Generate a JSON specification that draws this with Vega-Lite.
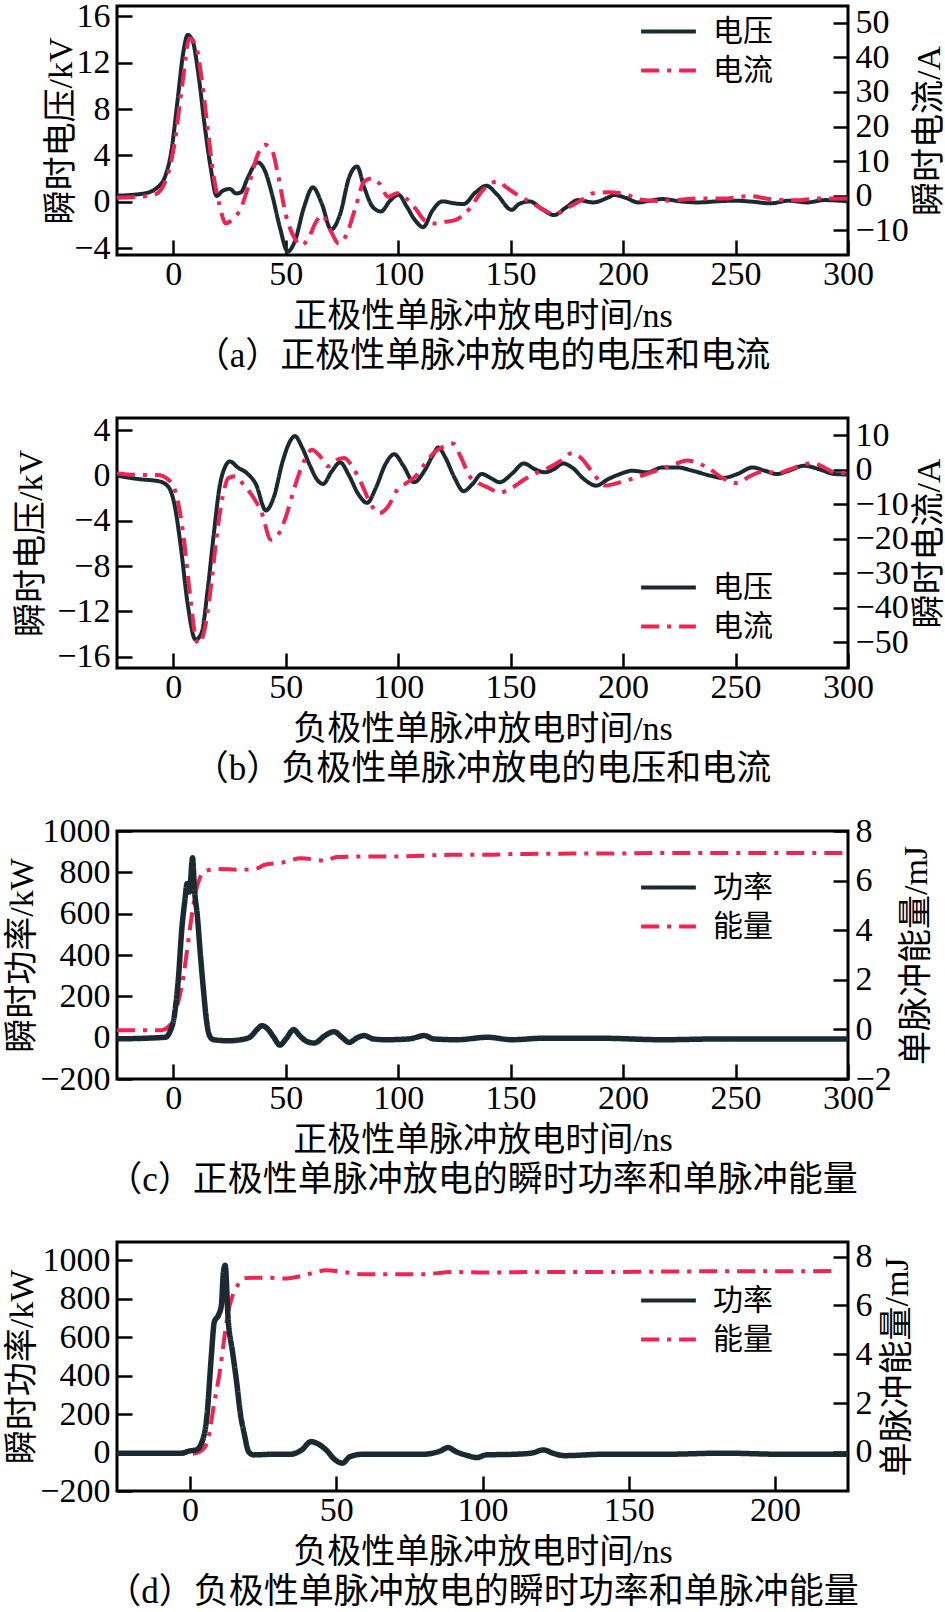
{
"$schema": "https://vega.github.io/schema/vega-lite/v6.json",
"background": "white",
"padding": {"left": 4, "top": -3, "right": 0, "bottom": 0},
"spacing": 163,
"bounds": "flush",
"config": {
  "font": "Liberation Serif, Noto Sans CJK SC",
  "view": {"stroke": "black", "strokeWidth": 3},
  "axis": {"grid": false, "domain": false, "tickSize": -15, "tickWidth": 2.5, "tickColor": "black", "labelFont": "Liberation Serif", "labelFontSize": 34, "labelColor": "black", "titleFont": "Liberation Serif, Noto Sans CJK SC", "titleFontSize": 34, "titleFontWeight": "normal", "titleColor": "black", "titlePadding": 4, "labelFlush": false, "labelOverlap": false},
  "axisX": {"labelPadding": 17, "titlePadding": 8},
  "axisY": {"labelPadding": 22},
  "axisRight": {"titleAngle": -90, "titleBaseline": "top", "titlePadding": 4},
  "title": {"font": "Liberation Serif, Noto Sans CJK SC", "fontSize": 35, "fontWeight": "normal", "color": "black"},
  "legend": {"title": null, "symbolType": "stroke", "symbolSize": 3000, "symbolStrokeWidth": 4, "labelFont": "Noto Sans CJK SC", "labelFontSize": 30, "labelColor": "black", "labelOffset": 15, "padding": 0, "rowPadding": 0, "clipHeight": 39, "orient": "none"}
},
"resolve": {"scale": {"color": "independent", "strokeDash": "independent", "x": "independent", "y": "independent"}, "legend": {"color": "independent", "strokeDash": "independent"}},
"datasets": {
"a": [
{"s":"电压","t":-25,"y":0.52},{"s":"电压","t":-12.9,"y":0.72},{"s":"电压","t":-7,"y":1.24},{"s":"电压","t":-3.5,"y":2.25},{"s":"电压","t":-0.8,"y":4.4},{"s":"电压","t":1.9,"y":8.7},{"s":"电压","t":4.6,"y":13.05},{"s":"电压","t":6.4,"y":14.4},{"s":"电压","t":8.6,"y":13.9},{"s":"电压","t":11.2,"y":11.0},{"s":"电压","t":13.9,"y":6.7},{"s":"电压","t":16.6,"y":3.0},{"s":"电压","t":19.3,"y":0.5},{"s":"电压","t":22,"y":0.95},{"s":"电压","t":25.2,"y":1.1},{"s":"电压","t":27.9,"y":0.72},{"s":"电压","t":30,"y":0.8},{"s":"电压","t":33.2,"y":2.1},{"s":"电压","t":37.5,"y":3.4},{"s":"电压","t":40.7,"y":2.7},{"s":"电压","t":43.9,"y":0.66},{"s":"电压","t":47.4,"y":-2.2},{"s":"电压","t":50.9,"y":-4.3},{"s":"电压","t":54.1,"y":-3.4},{"s":"电压","t":58.1,"y":-0.5},{"s":"电压","t":62.1,"y":1.24},{"s":"电压","t":66.1,"y":-0.2},{"s":"电压","t":70.2,"y":-2.4},{"s":"电压","t":74.2,"y":-1.07},{"s":"电压","t":78.2,"y":2.1},{"s":"电压","t":81.7,"y":3.05},{"s":"电压","t":84.9,"y":1.24},{"s":"电压","t":88.9,"y":-0.5},{"s":"电压","t":92.4,"y":-0.84},{"s":"电压","t":96.4,"y":0.09},{"s":"电压","t":100.2,"y":0.6},{"s":"电压","t":103.6,"y":-0.35},{"s":"电压","t":107.7,"y":-1.64},{"s":"电压","t":111.1,"y":-2.2},{"s":"电压","t":115.2,"y":-0.78},{"s":"电压","t":119.7,"y":0.03},{"s":"电压","t":125,"y":-0.14},{"s":"电压","t":129.1,"y":-0.2},{"s":"电压","t":134.4,"y":0.8},{"s":"电压","t":139.3,"y":1.38},{"s":"电压","t":143.8,"y":0.66},{"s":"电压","t":150.5,"y":-0.7},{"s":"电压","t":153.7,"y":-0.2},{"s":"电压","t":158.5,"y":0.03},{"s":"电压","t":163.9,"y":-0.63},{"s":"电压","t":169.3,"y":-1.15},{"s":"电压","t":174.6,"y":-0.5},{"s":"电压","t":180,"y":0.14},{"s":"电压","t":186.7,"y":-0.06},{"s":"电压","t":193.4,"y":0.37},{"s":"电压","t":196.1,"y":0.58},{"s":"电压","t":201.4,"y":0.32},{"s":"电压","t":206.7,"y":-0.06},{"s":"电压","t":212.1,"y":0.09},{"s":"电压","t":217.5,"y":0.23},{"s":"电压","t":225.5,"y":0.03},{"s":"电压","t":233.5,"y":-0.06},{"s":"电压","t":241.5,"y":0.03},{"s":"电压","t":249.6,"y":0.09},{"s":"电压","t":257.6,"y":0},{"s":"电压","t":265.6,"y":-0.14},{"s":"电压","t":273.7,"y":0.09},{"s":"电压","t":281.7,"y":-0.06},{"s":"电压","t":289.7,"y":0.14},{"s":"电压","t":300,"y":0.03},
{"s":"电流","t":-25,"y":-0.6},{"s":"电流","t":-15.5,"y":-0.3},{"s":"电流","t":-8,"y":0.4},{"s":"电流","t":-3.5,"y":4.1},{"s":"电流","t":0.5,"y":14.7},{"s":"电流","t":4,"y":32},{"s":"电流","t":7.2,"y":45.4},{"s":"电流","t":9.9,"y":43.7},{"s":"电流","t":12.6,"y":34},{"s":"电流","t":15.3,"y":19.5},{"s":"电流","t":17.9,"y":6},{"s":"电流","t":20.6,"y":-2.7},{"s":"电流","t":23.3,"y":-8},{"s":"电流","t":25.9,"y":-7.1},{"s":"电流","t":30,"y":-3.7},{"s":"电流","t":34,"y":4.1},{"s":"电流","t":37.5,"y":11.8},{"s":"电流","t":40.7,"y":14.7},{"s":"电流","t":43.9,"y":13.2},{"s":"电流","t":46.6,"y":6},{"s":"电流","t":50.1,"y":-5.6},{"s":"电流","t":54.1,"y":-12.4},{"s":"电流","t":56.8,"y":-14.3},{"s":"电流","t":60,"y":-12.4},{"s":"电流","t":63.5,"y":-7.5},{"s":"电流","t":66.1,"y":-5.6},{"s":"电流","t":70.2,"y":-10.4},{"s":"电流","t":73.6,"y":-13.8},{"s":"电流","t":76.9,"y":-11.4},{"s":"电流","t":80.9,"y":-3.7},{"s":"电流","t":84.9,"y":4.1},{"s":"电流","t":88.4,"y":5.0},{"s":"电流","t":91.6,"y":3.6},{"s":"电流","t":95.6,"y":-0.3},{"s":"电流","t":99.6,"y":0.7},{"s":"电流","t":103.6,"y":-0.8},{"s":"电流","t":107.7,"y":-3.7},{"s":"电流","t":111.7,"y":-7.1},{"s":"电流","t":115.7,"y":-8},{"s":"电流","t":121,"y":-7.5},{"s":"电流","t":125,"y":-7.1},{"s":"电流","t":131.8,"y":-3.7},{"s":"电流","t":137.1,"y":1.2},{"s":"电流","t":141.1,"y":3.6},{"s":"电流","t":144.6,"y":4.1},{"s":"电流","t":147.8,"y":2.6},{"s":"电流","t":153.2,"y":0.2},{"s":"电流","t":158.5,"y":-1.7},{"s":"电流","t":165.2,"y":-4.2},{"s":"电流","t":169.3,"y":-5.4},{"s":"电流","t":176,"y":-3.2},{"s":"电流","t":181.3,"y":-1.3},{"s":"电流","t":186.7,"y":0.7},{"s":"电流","t":193.4,"y":1.0},{"s":"电流","t":201.4,"y":0.4},{"s":"电流","t":206.7,"y":-1},{"s":"电流","t":214.8,"y":-1.5},{"s":"电流","t":222.8,"y":-1.3},{"s":"电流","t":233.5,"y":-0.8},{"s":"电流","t":244.2,"y":-0.8},{"s":"电流","t":256.3,"y":-0.1},{"s":"电流","t":265.7,"y":-1},{"s":"电流","t":276.4,"y":-1.3},{"s":"电流","t":287,"y":-0.8},{"s":"电流","t":300,"y":-0.8}
],
"b": [
{"s":"电压","t":-25,"y":0},{"s":"电压","t":-15.5,"y":-0.3},{"s":"电压","t":-6.2,"y":-0.5},{"s":"电压","t":-2.1,"y":-1.0},{"s":"电压","t":0.5,"y":-2.5},{"s":"电压","t":3.2,"y":-6.0},{"s":"电压","t":6.4,"y":-11.3},{"s":"电压","t":9.9,"y":-14.5},{"s":"电压","t":12.6,"y":-13.9},{"s":"电压","t":15.3,"y":-10.1},{"s":"电压","t":17.9,"y":-5.4},{"s":"电压","t":20.6,"y":-1.0},{"s":"电压","t":23.3,"y":0.88},{"s":"电压","t":25.2,"y":1.26},{"s":"电压","t":28.7,"y":0.73},{"s":"电压","t":32.7,"y":0.23},{"s":"电压","t":36.7,"y":-0.73},{"s":"电压","t":41.2,"y":-3.07},{"s":"电压","t":44.7,"y":-1.9},{"s":"电压","t":48.7,"y":1.3},{"s":"电压","t":52,"y":3.07},{"s":"电压","t":54.1,"y":3.5},{"s":"电压","t":57.3,"y":2.5},{"s":"电压","t":60.8,"y":0.88},{"s":"电压","t":64.3,"y":-0.44},{"s":"电压","t":66.7,"y":-0.73},{"s":"电压","t":70.2,"y":0.3},{"s":"电压","t":74.2,"y":1.17},{"s":"电压","t":78.2,"y":0},{"s":"电压","t":82.2,"y":-1.6},{"s":"电压","t":86.2,"y":-2.4},{"s":"电压","t":90.2,"y":-1.02},{"s":"电压","t":94.3,"y":1.0},{"s":"电压","t":98.3,"y":1.9},{"s":"电压","t":102.3,"y":0.88},{"s":"电压","t":107.1,"y":-0.58},{"s":"电压","t":111.7,"y":0.44},{"s":"电压","t":115.7,"y":1.9},{"s":"电压","t":117.8,"y":2.5},{"s":"电压","t":121,"y":1.6},{"s":"电压","t":125,"y":-0.15},{"s":"电压","t":129.1,"y":-1.37},{"s":"电压","t":133.1,"y":-0.73},{"s":"电压","t":137.1,"y":0.15},{"s":"电压","t":141.1,"y":-0.2},{"s":"电压","t":145.2,"y":-0.58},{"s":"电压","t":150.5,"y":0.15},{"s":"电压","t":155.9,"y":1.08},{"s":"电压","t":160.7,"y":0.58},{"s":"电压","t":165.2,"y":0.3},{"s":"电压","t":169.3,"y":0.58},{"s":"电压","t":173.3,"y":1.08},{"s":"电压","t":177.3,"y":0.73},{"s":"电压","t":182.6,"y":-0.3},{"s":"电压","t":188,"y":-0.88},{"s":"电压","t":193.4,"y":-0.3},{"s":"电压","t":198.7,"y":0.15},{"s":"电压","t":204.1,"y":0.44},{"s":"电压","t":210.8,"y":0.3},{"s":"电压","t":217.5,"y":0.73},{"s":"电压","t":224.2,"y":0.73},{"s":"电压","t":230.8,"y":0.44},{"s":"电压","t":238.9,"y":0},{"s":"电压","t":244.2,"y":-0.2},{"s":"电压","t":250.9,"y":0.15},{"s":"电压","t":257.6,"y":0.73},{"s":"电压","t":263,"y":0.44},{"s":"电压","t":268.4,"y":0.15},{"s":"电压","t":273.7,"y":0.44},{"s":"电压","t":280.4,"y":0.88},{"s":"电压","t":287.1,"y":0.58},{"s":"电压","t":293.8,"y":0.15},{"s":"电压","t":300,"y":0.1},
{"s":"电流","t":-25,"y":-1.0},{"s":"电流","t":-15.5,"y":-1.5},{"s":"电流","t":-7,"y":-1.5},{"s":"电流","t":-2.1,"y":-2.9},{"s":"电流","t":1.9,"y":-8.7},{"s":"电流","t":4.6,"y":-19.4},{"s":"电流","t":7.2,"y":-34.8},{"s":"电流","t":9.9,"y":-48.4},{"s":"电流","t":11.2,"y":-50.5},{"s":"电流","t":13.9,"y":-46.5},{"s":"电流","t":16.6,"y":-34.8},{"s":"电流","t":19.3,"y":-19.4},{"s":"电流","t":22,"y":-7.7},{"s":"电流","t":24.6,"y":-2.4},{"s":"电流","t":27.9,"y":-1.9},{"s":"电流","t":31.3,"y":-4.4},{"s":"电流","t":35.3,"y":-7.7},{"s":"电流","t":39.4,"y":-12.6},{"s":"电流","t":43.4,"y":-20.3},{"s":"电流","t":46.6,"y":-18.9},{"s":"电流","t":50.1,"y":-13.6},{"s":"电流","t":54.1,"y":-4.8},{"s":"电流","t":58.1,"y":2.4},{"s":"电流","t":61.6,"y":5.8},{"s":"电流","t":65.3,"y":3.9},{"s":"电流","t":68.8,"y":1.0},{"s":"电流","t":72.8,"y":2.9},{"s":"电流","t":76.1,"y":3.4},{"s":"电流","t":79.5,"y":1.0},{"s":"电流","t":83.6,"y":-3.9},{"s":"电流","t":87.6,"y":-9.7},{"s":"电流","t":91.6,"y":-12.6},{"s":"电流","t":95.6,"y":-10.6},{"s":"电流","t":99.6,"y":-5.8},{"s":"电流","t":103.6,"y":-3.9},{"s":"电流","t":107.7,"y":-1.9},{"s":"电流","t":111.7,"y":1.5},{"s":"电流","t":115.7,"y":4.8},{"s":"电流","t":120.5,"y":6.8},{"s":"电流","t":124.3,"y":7.6},{"s":"电流","t":127.7,"y":3.9},{"s":"电流","t":131.8,"y":-1.9},{"s":"电流","t":135.8,"y":-3.9},{"s":"电流","t":140.3,"y":-5.3},{"s":"电流","t":145.2,"y":-6.6},{"s":"电流","t":150.5,"y":-5.3},{"s":"电流","t":155.9,"y":-2.9},{"s":"电流","t":161.2,"y":-1.0},{"s":"电流","t":166.6,"y":0.5},{"s":"电流","t":171.9,"y":2.4},{"s":"电流","t":177.3,"y":4.8},{"s":"电流","t":181.3,"y":3.4},{"s":"电流","t":186.7,"y":-1.0},{"s":"电流","t":192,"y":-4.6},{"s":"电流","t":197.4,"y":-3.9},{"s":"电流","t":202.7,"y":-2.9},{"s":"电流","t":209.4,"y":-1.5},{"s":"电流","t":216.1,"y":0},{"s":"电流","t":222.8,"y":1.5},{"s":"电流","t":228.2,"y":2.7},{"s":"电流","t":233.5,"y":1.9},{"s":"电流","t":238.9,"y":0},{"s":"电流","t":244.2,"y":-2.4},{"s":"电流","t":250.9,"y":-3.9},{"s":"电流","t":256.3,"y":-1.9},{"s":"电流","t":263,"y":-0.5},{"s":"电流","t":268.4,"y":-1.0},{"s":"电流","t":273.7,"y":0},{"s":"电流","t":280.4,"y":1.5},{"s":"电流","t":284.4,"y":1.9},{"s":"电流","t":289.8,"y":0.5},{"s":"电流","t":295.1,"y":-1.0},{"s":"电流","t":300,"y":-0.8}
],
"c": [
{"s":"功率","t":-25,"y":-6},{"s":"功率","t":-3.5,"y":2},{"s":"功率","t":-1.6,"y":26},{"s":"功率","t":0.5,"y":107},{"s":"功率","t":2.4,"y":301},{"s":"功率","t":3.7,"y":511},{"s":"功率","t":5.1,"y":657},{"s":"功率","t":6.2,"y":746},{"s":"功率","t":7.2,"y":705},{"s":"功率","t":8.6,"y":870},{"s":"功率","t":9.4,"y":722},{"s":"功率","t":10.7,"y":592},{"s":"功率","t":12.1,"y":398},{"s":"功率","t":13.4,"y":236},{"s":"功率","t":14.7,"y":91},{"s":"功率","t":16.1,"y":10},{"s":"功率","t":17.9,"y":-10},{"s":"功率","t":24.6,"y":-15},{"s":"功率","t":30,"y":-10},{"s":"功率","t":34,"y":2},{"s":"功率","t":37.5,"y":42},{"s":"功率","t":39.4,"y":58},{"s":"功率","t":42,"y":42},{"s":"功率","t":44.7,"y":2},{"s":"功率","t":47.4,"y":-36},{"s":"功率","t":50.1,"y":-6},{"s":"功率","t":53.6,"y":39},{"s":"功率","t":56.2,"y":10},{"s":"功率","t":59.5,"y":-19},{"s":"功率","t":62.7,"y":-26},{"s":"功率","t":67.5,"y":10},{"s":"功率","t":71.5,"y":29},{"s":"功率","t":75,"y":2},{"s":"功率","t":78.2,"y":-23},{"s":"功率","t":82.2,"y":2},{"s":"功率","t":84.9,"y":10},{"s":"功率","t":88.9,"y":-6},{"s":"功率","t":94.3,"y":-10},{"s":"功率","t":105,"y":-6},{"s":"功率","t":111.7,"y":10},{"s":"功率","t":115.7,"y":-6},{"s":"功率","t":126.3,"y":-10},{"s":"功率","t":139.8,"y":2},{"s":"功率","t":150.5,"y":-10},{"s":"功率","t":163.9,"y":-3},{"s":"功率","t":190.7,"y":-3},{"s":"功率","t":217.5,"y":-10},{"s":"功率","t":244.2,"y":-6},{"s":"功率","t":271,"y":-6},{"s":"功率","t":300,"y":-6},
{"s":"能量","t":-25,"y":-0.03},{"s":"能量","t":-5.4,"y":-0.03},{"s":"能量","t":-0.8,"y":0.24},{"s":"能量","t":1.9,"y":0.97},{"s":"能量","t":4.6,"y":2.17},{"s":"能量","t":6.4,"y":3.37},{"s":"能量","t":8,"y":4.44},{"s":"能量","t":9.9,"y":5.5},{"s":"能量","t":11.8,"y":6.1},{"s":"能量","t":13.9,"y":6.37},{"s":"能量","t":19.3,"y":6.47},{"s":"能量","t":30,"y":6.44},{"s":"能量","t":36.7,"y":6.48},{"s":"能量","t":40.7,"y":6.64},{"s":"能量","t":48.7,"y":6.73},{"s":"能量","t":56.8,"y":6.9},{"s":"能量","t":67.5,"y":6.81},{"s":"能量","t":72.8,"y":6.95},{"s":"能量","t":83.6,"y":6.97},{"s":"能量","t":96.9,"y":6.97},{"s":"能量","t":110.3,"y":7.0},{"s":"能量","t":123.7,"y":7.04},{"s":"能量","t":137.1,"y":7.04},{"s":"能量","t":150.5,"y":7.07},{"s":"能量","t":163.9,"y":7.08},{"s":"能量","t":177.3,"y":7.09},{"s":"能量","t":190.7,"y":7.09},{"s":"能量","t":217.5,"y":7.11},{"s":"能量","t":244.2,"y":7.11},{"s":"能量","t":271,"y":7.11},{"s":"能量","t":300,"y":7.11}
],
"d": [
{"s":"功率","t":-25,"y":-3},{"s":"功率","t":-3.1,"y":-3},{"s":"功率","t":0,"y":9},{"s":"功率","t":2.1,"y":14},{"s":"功率","t":4.1,"y":57},{"s":"功率","t":5.8,"y":196},{"s":"功率","t":7.2,"y":490},{"s":"功率","t":8.3,"y":681},{"s":"功率","t":9.7,"y":715},{"s":"功率","t":10.7,"y":767},{"s":"功率","t":11.4,"y":940},{"s":"功率","t":12,"y":975},{"s":"功率","t":13,"y":698},{"s":"功率","t":14.5,"y":525},{"s":"功率","t":15.9,"y":369},{"s":"功率","t":17.1,"y":213},{"s":"功率","t":18.6,"y":92},{"s":"功率","t":20,"y":5},{"s":"功率","t":21.7,"y":-12},{"s":"功率","t":27.9,"y":-9},{"s":"功率","t":34.1,"y":-9},{"s":"功率","t":38.2,"y":14},{"s":"功率","t":41.3,"y":57},{"s":"功率","t":43.4,"y":48},{"s":"功率","t":46.5,"y":14},{"s":"功率","t":49.6,"y":-38},{"s":"功率","t":52.1,"y":-55},{"s":"功率","t":54.7,"y":-21},{"s":"功率","t":58.9,"y":-9},{"s":"功率","t":69.2,"y":-9},{"s":"功率","t":79.5,"y":-9},{"s":"功率","t":85.7,"y":9},{"s":"功率","t":88.2,"y":26},{"s":"功率","t":90.9,"y":5},{"s":"功率","t":95,"y":-16},{"s":"功率","t":98.1,"y":-26},{"s":"功率","t":101.2,"y":-12},{"s":"功率","t":110.5,"y":-9},{"s":"功率","t":116.7,"y":-3},{"s":"功率","t":120.9,"y":14},{"s":"功率","t":124,"y":-3},{"s":"功率","t":128.1,"y":-16},{"s":"功率","t":141,"y":-9},{"s":"功率","t":161.6,"y":-9},{"s":"功率","t":182.3,"y":-3},{"s":"功率","t":203,"y":-9},{"s":"功率","t":225,"y":-9},
{"s":"能量","t":-25,"y":-0.07},{"s":"能量","t":1,"y":-0.07},{"s":"能量","t":4.1,"y":0.07},{"s":"能量","t":6.2,"y":0.54},{"s":"能量","t":8.3,"y":2.04},{"s":"能量","t":10.3,"y":3.4},{"s":"能量","t":11.8,"y":4.76},{"s":"能量","t":13,"y":5.71},{"s":"能量","t":14.5,"y":6.39},{"s":"能量","t":16.5,"y":6.87},{"s":"能量","t":18.6,"y":7.12},{"s":"能量","t":21.7,"y":7.14},{"s":"能量","t":25.8,"y":7.14},{"s":"能量","t":32,"y":7.1},{"s":"能量","t":38.2,"y":7.21},{"s":"能量","t":42.4,"y":7.35},{"s":"能量","t":46.5,"y":7.44},{"s":"能量","t":52.7,"y":7.37},{"s":"能量","t":58.9,"y":7.28},{"s":"能量","t":69.2,"y":7.28},{"s":"能量","t":79.5,"y":7.28},{"s":"能量","t":89.9,"y":7.37},{"s":"能量","t":100.2,"y":7.35},{"s":"能量","t":120.9,"y":7.37},{"s":"能量","t":141.6,"y":7.37},{"s":"能量","t":162.2,"y":7.39},{"s":"能量","t":182.9,"y":7.4},{"s":"能量","t":203.6,"y":7.4},{"s":"能量","t":222,"y":7.41}
]
},
"vconcat": [
{
  "width": 731, "height": 249,
  "data": {"name": "a"},
  "title": {"text": "（a）正极性单脉冲放电的电压和电流", "orient": "bottom", "offset": 6},
  "encoding": {
    "x": {"field": "t", "type": "quantitative", "scale": {"domain": [-25, 300], "nice": false, "zero": false}, "axis": {"values": [0, 50, 100, 150, 200, 250, 300], "title": "正极性单脉冲放电时间/ns"}},
    "color": {"field": "s", "type": "nominal", "scale": {"domain": ["电压", "电流"], "range": ["#1b2a30", "#ee2452"]}, "legend": {"legendX": 522, "legendY": 6}},
    "strokeDash": {"field": "s", "type": "nominal", "scale": {"domain": ["电压", "电流"], "range": [[1, 0], [18, 8, 4, 8]]}, "legend": {"legendX": 522, "legendY": 6}}
  },
  "layer": [
    {"transform": [{"filter": "datum.s === '电压'"}], "mark": {"type": "line", "strokeWidth": 4, "interpolate": "monotone", "clip": true},
     "encoding": {"y": {"field": "y", "type": "quantitative", "scale": {"domain": [-4.6, 16.9], "nice": false, "zero": false}, "axis": {"orient": "left", "values": [-4, 0, 4, 8, 12, 16], "title": "瞬时电压/kV", "titlePadding": -5}}}},
    {"transform": [{"filter": "datum.s === '电流'"}], "mark": {"type": "line", "strokeWidth": 4, "interpolate": "monotone", "clip": true},
     "encoding": {"y": {"field": "y", "type": "quantitative", "scale": {"domain": [-17.1, 54.8], "nice": false, "zero": false}, "axis": {"orient": "right", "values": [-10, 0, 10, 20, 30, 40, 50], "title": "瞬时电流/A"}}}}
  ],
  "resolve": {"scale": {"y": "independent"}}
},
{
  "width": 731, "height": 250,
  "data": {"name": "b"},
  "title": {"text": "（b）负极性单脉冲放电的电压和电流", "orient": "bottom", "offset": 6},
  "encoding": {
    "x": {"field": "t", "type": "quantitative", "scale": {"domain": [-25, 300], "nice": false, "zero": false}, "axis": {"values": [0, 50, 100, 150, 200, 250, 300], "title": "负极性单脉冲放电时间/ns"}},
    "color": {"field": "s", "type": "nominal", "scale": {"domain": ["电压", "电流"], "range": ["#1b2a30", "#ee2452"]}, "legend": {"legendX": 522, "legendY": 150}},
    "strokeDash": {"field": "s", "type": "nominal", "scale": {"domain": ["电压", "电流"], "range": [[1, 0], [18, 8, 4, 8]]}, "legend": {"legendX": 522, "legendY": 150}}
  },
  "layer": [
    {"transform": [{"filter": "datum.s === '电压'"}], "mark": {"type": "line", "strokeWidth": 4, "interpolate": "monotone", "clip": true},
     "encoding": {"y": {"field": "y", "type": "quantitative", "scale": {"domain": [-17, 5.1], "nice": false, "zero": false}, "axis": {"orient": "left", "values": [-16, -12, -8, -4, 0, 4], "title": "瞬时电压/kV", "titlePadding": 8}}}},
    {"transform": [{"filter": "datum.s === '电流'"}], "mark": {"type": "line", "strokeWidth": 4, "interpolate": "monotone", "clip": true},
     "encoding": {"y": {"field": "y", "type": "quantitative", "scale": {"domain": [-57.5, 15], "nice": false, "zero": false}, "axis": {"orient": "right", "values": [-50, -40, -30, -20, -10, 0, 10], "title": "瞬时电流/A"}}}}
  ],
  "resolve": {"scale": {"y": "independent"}}
},
{
  "width": 731, "height": 248,
  "data": {"name": "c"},
  "title": {"text": "（c）正极性单脉冲放电的瞬时功率和单脉冲能量", "orient": "bottom", "offset": 6},
  "encoding": {
    "x": {"field": "t", "type": "quantitative", "scale": {"domain": [-25, 300], "nice": false, "zero": false}, "axis": {"values": [0, 50, 100, 150, 200, 250, 300], "title": "正极性单脉冲放电时间/ns"}},
    "color": {"field": "s", "type": "nominal", "scale": {"domain": ["功率", "能量"], "range": ["#1b2a30", "#ee2452"]}, "legend": {"legendX": 522, "legendY": 37}},
    "strokeDash": {"field": "s", "type": "nominal", "scale": {"domain": ["功率", "能量"], "range": [[1, 0], [18, 8, 4, 8]]}, "legend": {"legendX": 522, "legendY": 37}}
  },
  "layer": [
    {"transform": [{"filter": "datum.s === '能量'"}], "mark": {"type": "line", "strokeWidth": 4, "interpolate": "monotone", "clip": true},
     "encoding": {"y": {"field": "y", "type": "quantitative", "scale": {"domain": [-2, 8], "nice": false, "zero": false}, "axis": {"orient": "right", "values": [-2, 0, 2, 4, 6, 8], "format": "d", "title": "单脉冲能量/mJ", "titlePadding": 8}}}},
    {"transform": [{"filter": "datum.s === '功率'"}], "mark": {"type": "line", "strokeWidth": 5.5, "interpolate": "monotone", "clip": true},
     "encoding": {"y": {"field": "y", "type": "quantitative", "scale": {"domain": [-200, 1000], "nice": false, "zero": false}, "axis": {"orient": "left", "values": [-200, 0, 200, 400, 600, 800, 1000], "format": "d", "title": "瞬时功率/kW", "titlePadding": 0}}}}
  ],
  "resolve": {"scale": {"y": "independent"}}
},
{
  "width": 731, "height": 249,
  "data": {"name": "d"},
  "title": {"text": "（d）负极性单脉冲放电的瞬时功率和单脉冲能量", "orient": "bottom", "offset": 6},
  "encoding": {
    "x": {"field": "t", "type": "quantitative", "scale": {"domain": [-25, 225], "nice": false, "zero": false}, "axis": {"values": [0, 50, 100, 150, 200], "title": "负极性单脉冲放电时间/ns"}},
    "color": {"field": "s", "type": "nominal", "scale": {"domain": ["功率", "能量"], "range": ["#1b2a30", "#ee2452"]}, "legend": {"legendX": 522, "legendY": 39}},
    "strokeDash": {"field": "s", "type": "nominal", "scale": {"domain": ["功率", "能量"], "range": [[1, 0], [18, 8, 4, 8]]}, "legend": {"legendX": 522, "legendY": 39}}
  },
  "layer": [
    {"transform": [{"filter": "datum.s === '能量'"}], "mark": {"type": "line", "strokeWidth": 4, "interpolate": "monotone", "clip": true},
     "encoding": {"y": {"field": "y", "type": "quantitative", "scale": {"domain": [-1.6, 8.6], "nice": false, "zero": false}, "axis": {"orient": "right", "values": [0, 2, 4, 6, 8], "format": "d", "title": "单脉冲能量/mJ", "titlePadding": 8}}}},
    {"transform": [{"filter": "datum.s === '功率'"}], "mark": {"type": "line", "strokeWidth": 5.5, "interpolate": "monotone", "clip": true},
     "encoding": {"y": {"field": "y", "type": "quantitative", "scale": {"domain": [-200, 1096], "nice": false, "zero": false}, "axis": {"orient": "left", "values": [-200, 0, 200, 400, 600, 800, 1000], "format": "d", "title": "瞬时功率/kW", "titlePadding": 0}}}}
  ],
  "resolve": {"scale": {"y": "independent"}}
}
]
}
